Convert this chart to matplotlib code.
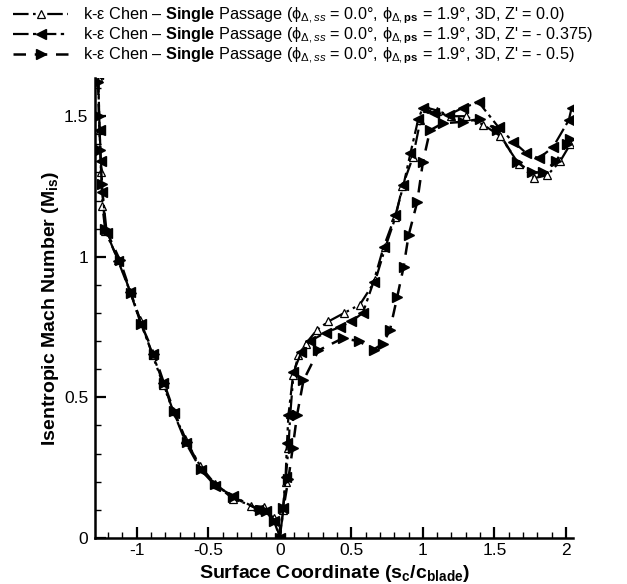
import matplotlib
matplotlib.use("Agg")
import matplotlib.pyplot as plt
from matplotlib.ticker import MultipleLocator

plt.rcParams['font.family'] = ['Liberation Sans', 'DejaVu Sans']
plt.rcParams['mathtext.fontset'] = 'custom'
plt.rcParams['mathtext.rm'] = 'Liberation Sans'
plt.rcParams['mathtext.it'] = 'Liberation Sans:italic'
plt.rcParams['mathtext.bf'] = 'Liberation Sans:bold'

# --- data (surface coordinate, isentropic Mach) ---
# Z' = 0.0
x1 = [-1.27, -1.26, -1.25, -1.24, -1.22, -1.13, -1.045, -0.975, -0.89, -0.815, -0.745,
      -0.66, -0.556, -0.45, -0.33, -0.20, -0.11, -0.04, 0.0, 0.02, 0.04, 0.06, 0.073,
      0.095, 0.13, 0.18, 0.26, 0.34, 0.45, 0.56, 0.668, 0.738, 0.808, 0.857, 0.93,
      0.983, 1.03, 1.10, 1.20, 1.30, 1.42, 1.54, 1.67, 1.78, 1.87, 1.96, 2.03]
y1 = [1.64, 1.45, 1.30, 1.18, 1.09, 0.99, 0.875, 0.775, 0.65, 0.545, 0.45,
      0.35, 0.255, 0.19, 0.14, 0.115, 0.11, 0.07, 0.0, 0.10, 0.20, 0.32, 0.44,
      0.58, 0.65, 0.69, 0.74, 0.77, 0.80, 0.83, 0.916, 1.034, 1.14, 1.25, 1.354,
      1.486, 1.53, 1.52, 1.50, 1.50, 1.47, 1.43, 1.33, 1.28, 1.29, 1.34, 1.40]

# Z' = -0.375
x2 = [-1.27, -1.26, -1.25, -1.24, -1.21, -1.13, -1.045, -0.97, -0.89, -0.815, -0.74,
      -0.655, -0.55, -0.45, -0.33, -0.15, -0.10, -0.04, 0.0, 0.025, 0.04, 0.05, 0.06,
      0.095, 0.15, 0.21, 0.32, 0.42, 0.50, 0.58, 0.655, 0.725, 0.808, 0.864, 0.913,
      0.968, 1.00, 1.08, 1.18, 1.28, 1.39, 1.53, 1.63, 1.72, 1.81, 1.91, 2.02, 2.04]
y2 = [1.65, 1.45, 1.34, 1.23, 1.085, 0.985, 0.873, 0.76, 0.655, 0.55, 0.443,
      0.336, 0.24, 0.185, 0.15, 0.10, 0.095, 0.06, 0.0, 0.105, 0.215, 0.336, 0.436,
      0.59, 0.66, 0.70, 0.73, 0.75, 0.77, 0.80, 0.91, 1.034, 1.148, 1.254, 1.368,
      1.49, 1.53, 1.51, 1.505, 1.53, 1.55, 1.46, 1.41, 1.37, 1.35, 1.39, 1.486, 1.53]

# Z' = -0.5
x3 = [-1.27, -1.265, -1.255, -1.245, -1.22, -1.12, -1.04, -0.97, -0.88, -0.81, -0.74,
      -0.65, -0.55, -0.45, -0.33, -0.14, -0.10, -0.04, 0.0, 0.025, 0.06, 0.09, 0.12,
      0.165, 0.27, 0.44, 0.55, 0.655, 0.72, 0.77, 0.82, 0.865, 0.90, 0.96, 1.00,
      1.05, 1.14, 1.28, 1.40, 1.52, 1.66, 1.76, 1.84, 1.93, 2.01, 2.03]
y3 = [1.62, 1.50, 1.38, 1.26, 1.10, 0.99, 0.87, 0.76, 0.655, 0.55, 0.45,
      0.34, 0.245, 0.19, 0.145, 0.10, 0.095, 0.06, 0.0, 0.105, 0.21, 0.32, 0.436,
      0.56, 0.667, 0.71, 0.70, 0.67, 0.69, 0.74, 0.856, 0.963, 1.076, 1.194, 1.336,
      1.45, 1.475, 1.48, 1.49, 1.45, 1.336, 1.30, 1.30, 1.34, 1.40, 1.42]

labels = [
    r"k-ε Chen – $\mathbf{Single}$ Passage (ϕ$_{\Delta,ss}$ = 0.0°, ϕ$_{\Delta,\mathbf{ps}}$ = 1.9°, 3D, Z' = 0.0)",
    r"k-ε Chen – $\mathbf{Single}$ Passage (ϕ$_{\Delta,ss}$ = 0.0°, ϕ$_{\Delta,\mathbf{ps}}$ = 1.9°, 3D, Z' = - 0.375)",
    r"k-ε Chen – $\mathbf{Single}$ Passage (ϕ$_{\Delta,ss}$ = 0.0°, ϕ$_{\Delta,\mathbf{ps}}$ = 1.9°, 3D, Z' = - 0.5)",
]

fig = plt.figure(figsize=(6.27, 5.84), dpi=100)
ax = fig.add_axes([0.152, 0.079, 0.762, 0.787])

ax.plot(x1, y1, color='black', lw=1.6, dashes=(7, 2, 1.2, 2, 1.2, 2),
        marker='^', ms=6, mfc='white', mec='black', mew=0.9, label=labels[0])
ax.plot(x2, y2, color='black', lw=1.6, dashes=(7, 2, 1.5, 2),
        marker='<', ms=6.5, mfc='black', mec='black', label=labels[1])
ax.plot(x3, y3, color='black', lw=1.8, dashes=(5, 3.5),
        marker='>', ms=6.5, mfc='black', mec='black', label=labels[2])

ax.set_xlim(-1.29, 2.05)
ax.set_ylim(0, 1.635)
ax.xaxis.set_minor_locator(MultipleLocator(0.1))
ax.yaxis.set_minor_locator(MultipleLocator(0.1))
ax.set_xticks([-1, -0.5, 0, 0.5, 1, 1.5, 2])
ax.set_xticklabels(['-1', '-0.5', '0', '0.5', '1', '1.5', '2'])
ax.set_yticks([0, 0.5, 1, 1.5])
ax.set_yticklabels(['0', '0.5', '1', '1.5'])
ax.tick_params(which='major', direction='in', length=8, width=1.6, labelsize=12.5)
ax.tick_params(which='minor', direction='in', length=4, width=1.0)
ax.tick_params(axis='y', pad=5)
for s in ['top', 'right']:
    ax.spines[s].set_visible(False)
for s in ['left', 'bottom']:
    ax.spines[s].set_linewidth(1.8)

ax.set_xlabel(r"Surface Coordinate (s$_\mathbf{c}$/c$_\mathbf{blade}$)",
              fontsize=14, fontweight='bold', labelpad=4)
ax.set_ylabel(r"Isentropic Mach Number (M$_\mathbf{is}$)",
              fontsize=14, fontweight='bold', labelpad=2)

fig.legend(loc='upper left', bbox_to_anchor=(0.021, 0.99), frameon=False,
           fontsize=11.7, handlelength=3.4, handletextpad=0.9,
           labelspacing=-0.04, borderaxespad=0.0, borderpad=0.0)

fig.savefig("out.png", dpi=100)
